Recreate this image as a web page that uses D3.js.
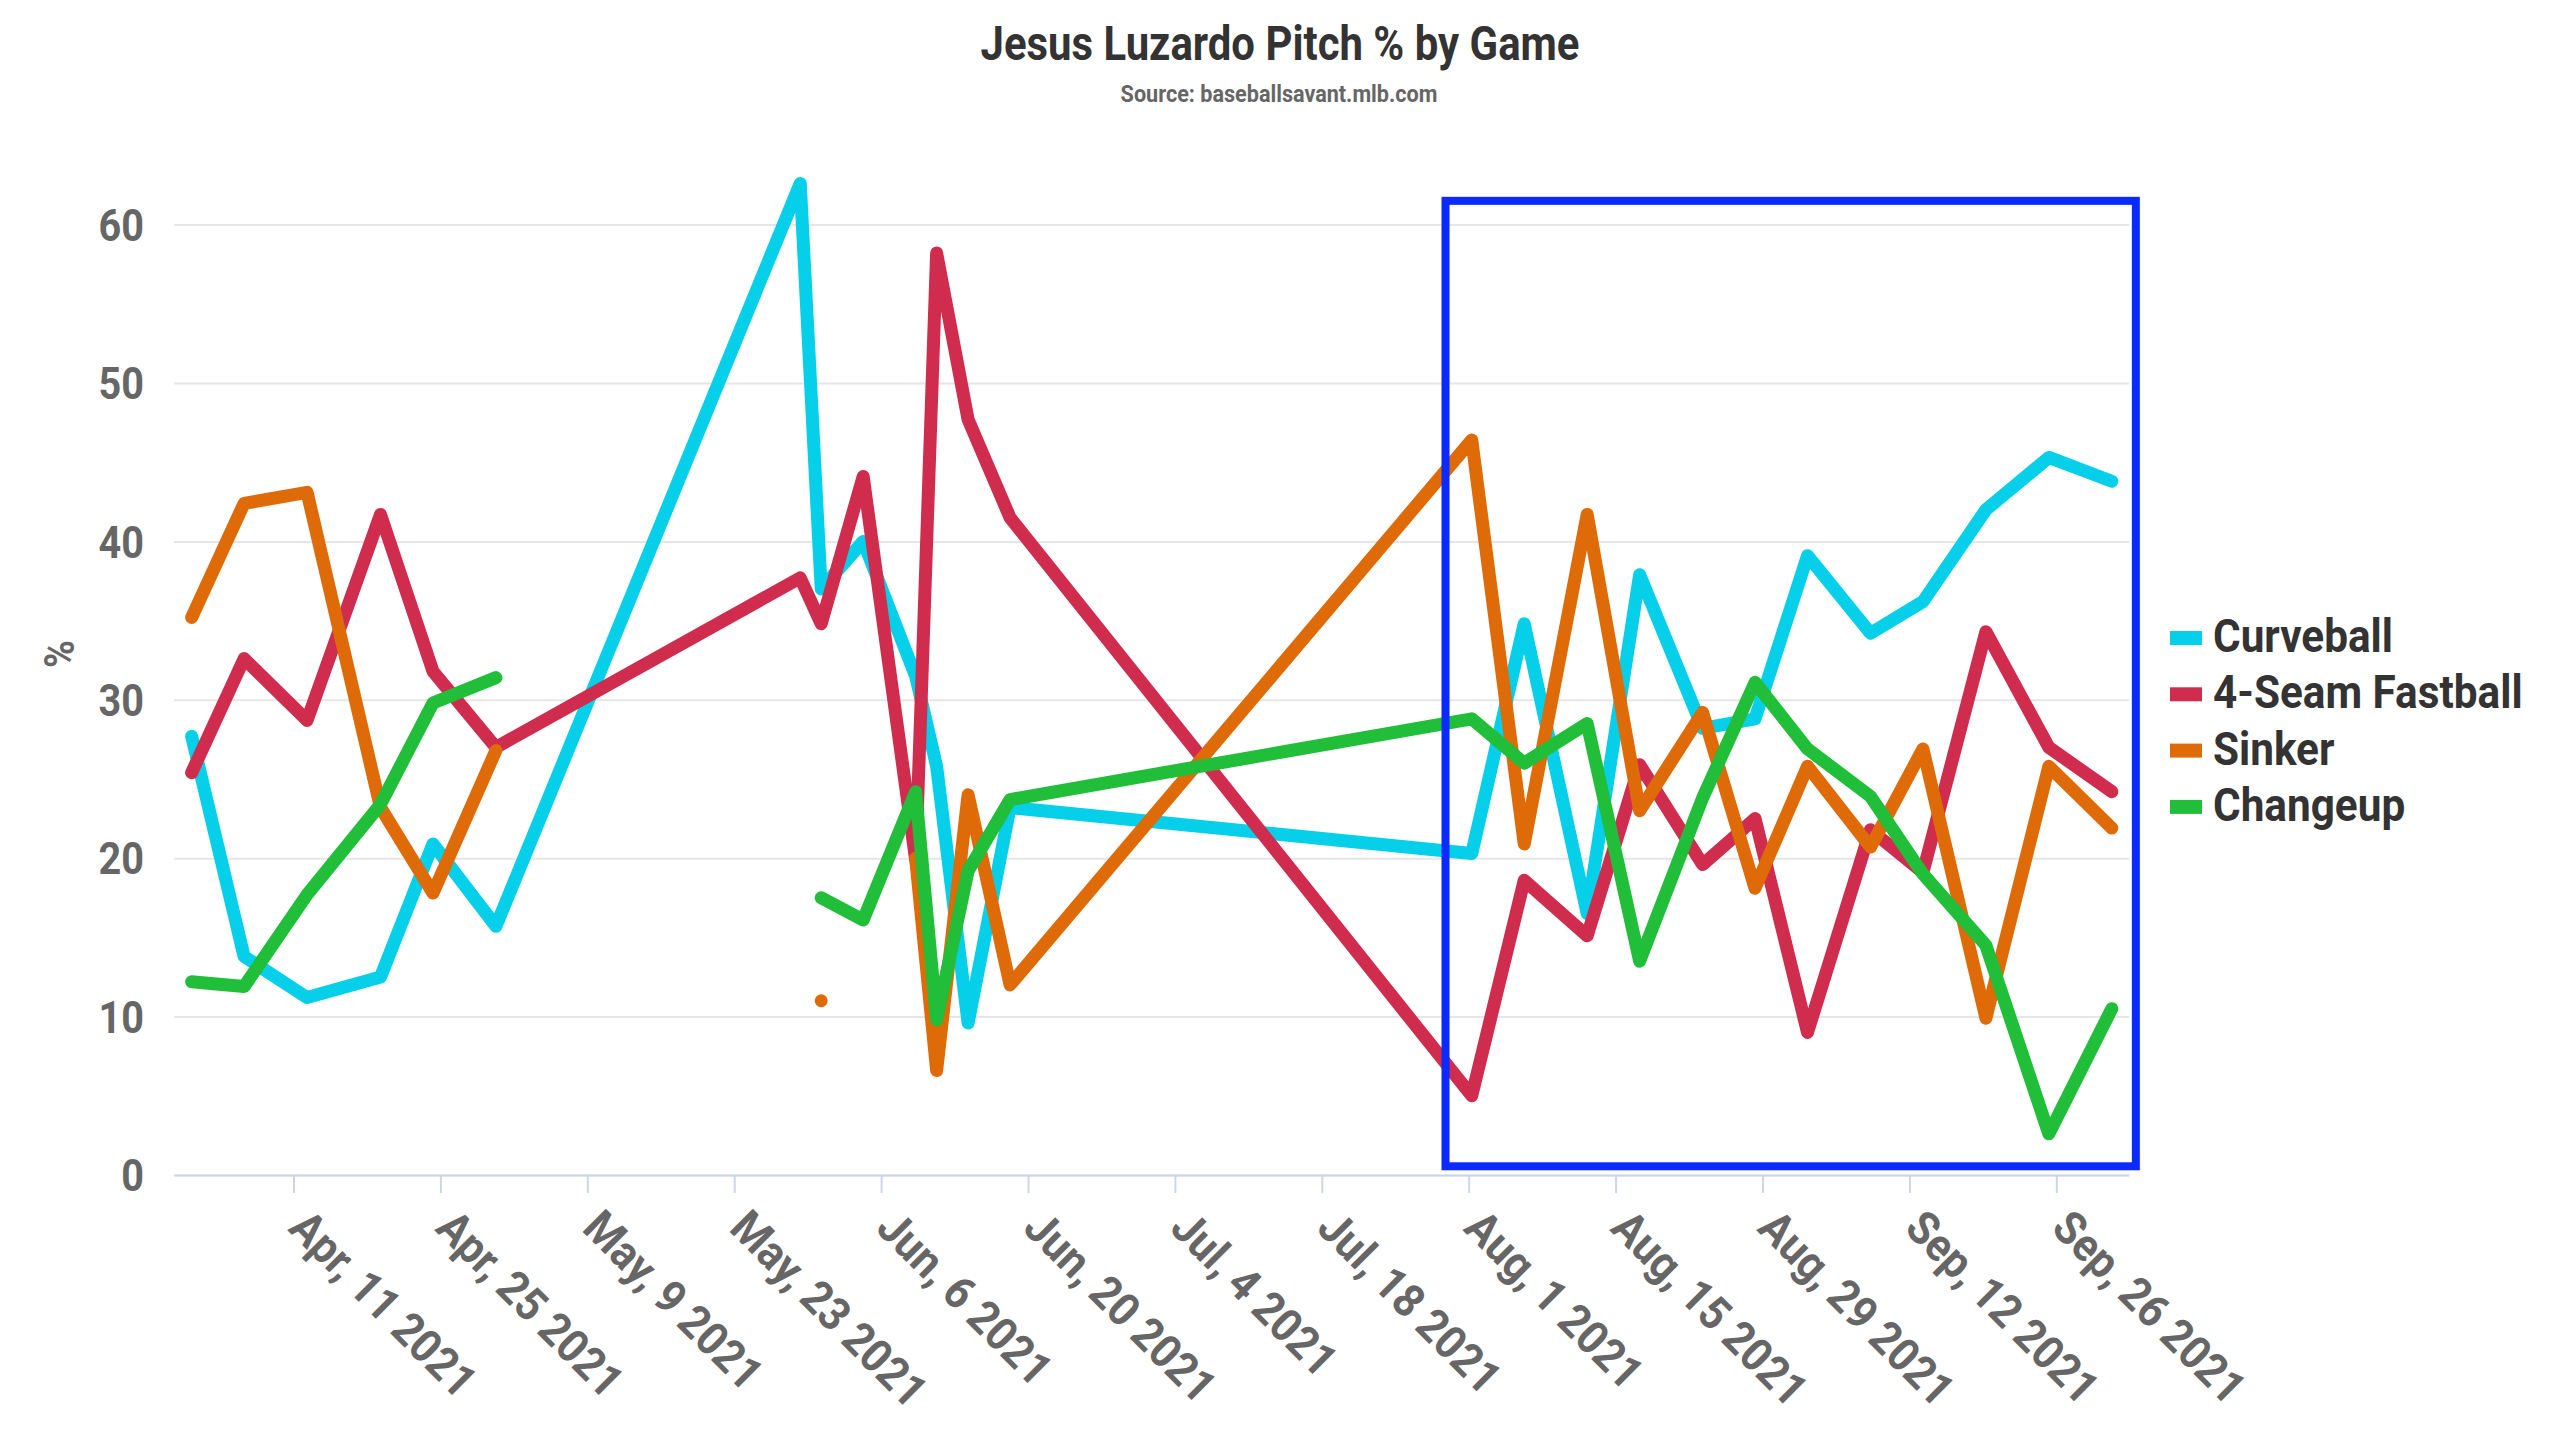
<!DOCTYPE html>
<html><head><meta charset="utf-8">
<script src="https://cdn.jsdelivr.net/npm/d3@7"></script>
<style>
html,body{margin:0;padding:0;background:#ffffff;}
svg text{font-family:Roboto,"Noto Sans",sans-serif;font-weight:700;}
</style></head><body>
<svg id="chart" width="2560" height="1440"></svg>
<script>
// ---- data ----
const gameDates = ["2021-04-01","2021-04-06","2021-04-12","2021-04-19","2021-04-24","2021-04-30",
  "2021-05-29","2021-05-31","2021-06-04","2021-06-09","2021-06-11","2021-06-14","2021-06-18",
  "2021-08-01","2021-08-06","2021-08-12","2021-08-17","2021-08-23","2021-08-28","2021-09-02",
  "2021-09-08","2021-09-13","2021-09-19","2021-09-25","2021-10-01"];
const curveball = [27.7,13.8,11.2,12.5,20.9,15.7,62.6,37.0,40.0,31.5,25.8,9.6,23.2,20.3,34.8,16.5,37.9,28.2,28.8,39.1,34.2,36.2,42.0,45.3,43.8];
const fourSeam  = [25.4,32.6,28.7,41.7,31.8,27.0,37.7,34.8,44.1,19.9,58.2,47.7,41.5,5.0,18.6,15.1,25.9,19.6,22.5,9.0,21.8,19.1,34.3,27.0,24.2];
const sinker    = [35.2,42.4,43.1,23.2,17.8,26.8,null,11.0,null,20.0,6.6,24.0,12.0,46.4,20.9,41.7,23.0,29.2,18.1,25.8,20.7,26.9,9.9,25.8,21.9];
const changeup  = [12.2,11.9,17.7,23.4,29.8,31.4,null,17.5,16.1,24.2,9.8,19.2,23.7,28.8,26.0,28.5,13.5,23.8,31.1,26.9,23.9,19.0,14.5,2.6,10.5];
const seriesNames  = ["Curveball","4-Seam Fastball","Sinker","Changeup"];
const seriesValues = [curveball, fourSeam, sinker, changeup];
const seriesColors = ["#05cfe9","#d02d4e","#de6b08","#21be3a"];
const xTickDates = ["2021-04-11","2021-04-25","2021-05-09","2021-05-23","2021-06-06","2021-06-20",
  "2021-07-04","2021-07-18","2021-08-01","2021-08-15","2021-08-29","2021-09-12","2021-09-26"];
const yTicks = [0,10,20,30,40,50,60];
const xDomain = ["2021-03-30T14:40","2021-10-02T22:20"];
const highlightBox = {start:"2021-07-29T19:00", end:"2021-10-03T14:00", top:61.5, bottom:0.55};
const titleText = "Jesus Luzardo Pitch % by Game";
const subtitleText = "Source: baseballsavant.mlb.com";
const yAxisTitle = "%";

// ---- layout ----
const K = 0.9; // horizontal condensing (approximates a condensed face)
const plot = {left:174, right:2129, top:224.6, bottom:1175};
const parseDay = d3.timeParse("%Y-%m-%d");
const parseTime = d3.timeParse("%Y-%m-%dT%H:%M");
const gameTime = s => d3.timeHour.offset(parseDay(s), 7);

const svg = d3.select("#chart");
svg.append("rect").attr("width",2560).attr("height",1440).attr("fill","#ffffff");

const x = d3.scaleTime().domain(xDomain.map(parseTime)).range([plot.left, plot.right]);
const y = d3.scaleLinear().domain([0,60]).range([plot.bottom, plot.top]);

// gridlines
const grid = svg.append("g").attr("transform",`translate(${plot.left},0)`)
  .call(d3.axisLeft(y).tickValues(yTicks).tickSize(-(plot.right-plot.left)).tickFormat(""));
grid.select(".domain").remove();
grid.selectAll("line").attr("stroke","#e6e6e6").attr("stroke-width",2);

// x axis
const xAxis = svg.append("g").attr("transform",`translate(0,${plot.bottom})`)
  .call(d3.axisBottom(x).tickValues(xTickDates.map(parseDay)).tickSize(18).tickSizeOuter(0)
    .tickFormat(d3.timeFormat("%b, %-d %Y")));
xAxis.select(".domain").attr("stroke","#ccd6eb").attr("stroke-width",2);
xAxis.selectAll(".tick line").attr("stroke","#ccd6eb").attr("stroke-width",2);
xAxis.selectAll(".tick text")
  .attr("y",null).attr("dy",null)
  .attr("text-anchor","start")
  .attr("transform",`translate(-7,55) rotate(45) scale(0.92,1)`)
  .attr("fill","#666666").style("font-size","46px");

// y axis labels
const yAxis = svg.append("g").attr("transform",`translate(144,0)`)
  .call(d3.axisLeft(y).tickValues(yTicks).tickSize(0).tickPadding(0));
yAxis.select(".domain").remove();
yAxis.selectAll(".tick text").attr("x",0).attr("dy","0.355em")
  .attr("transform",`scale(${K},1)`)
  .attr("fill","#666666").style("font-size","44px");

svg.append("text").attr("transform",`translate(74,654) rotate(-90) scale(${K},1)`)
  .attr("text-anchor","middle").attr("fill","#666666").style("font-size","42px").text(yAxisTitle);

// series
const line = d3.line().defined(d => d.v != null).x(d => x(d.t)).y(d => y(d.v));
const seriesData = seriesValues.map((vals,i) => ({
  name: seriesNames[i], color: seriesColors[i],
  points: vals.map((v,j) => ({t: gameTime(gameDates[j]), v}))
}));
const sg = svg.append("g");
seriesData.forEach(s => {
  sg.append("path").datum(s.points).attr("d", line)
    .attr("fill","none").attr("stroke", s.color).attr("stroke-width",13)
    .attr("stroke-linejoin","round").attr("stroke-linecap","round");
  const iso = s.points.filter((p,j) => p.v != null &&
    (j===0 || s.points[j-1].v == null) && (j===s.points.length-1 || s.points[j+1].v == null));
  sg.selectAll(null).data(iso).enter().append("rect")
    .attr("x", d => x(d.t)-3.5).attr("y", d => y(d.v)-3.5)
    .attr("width",7).attr("height",7).attr("fill", s.color);
});

// highlight box
svg.append("rect")
  .attr("x", x(parseTime(highlightBox.start)))
  .attr("y", y(highlightBox.top))
  .attr("width", x(parseTime(highlightBox.end)) - x(parseTime(highlightBox.start)))
  .attr("height", y(highlightBox.bottom) - y(highlightBox.top))
  .attr("fill","none").attr("stroke","#0a2aff").attr("stroke-width",8);

// title
svg.append("text").attr("transform",`translate(1280,60) scale(0.855,1)`)
  .attr("text-anchor","middle").attr("fill","#333333").style("font-size","49px").text(titleText);
svg.append("text").attr("transform",`translate(1279,102) scale(${K},1)`)
  .attr("text-anchor","middle").attr("fill","#666666").style("font-size","24px").text(subtitleText);

// legend
const lg = svg.append("g").attr("transform","translate(2170,638)");
const rows = lg.selectAll("g").data(seriesData).enter().append("g")
  .attr("transform",(d,i) => `translate(0,${i*56.3})`);
rows.append("rect").attr("x",0).attr("y",-7).attr("width",32).attr("height",14)
  .attr("fill", d => d.color);
rows.append("text").attr("transform",`translate(43,14) scale(${K},1)`)
  .attr("fill","#333333").style("font-size","47px").text(d => d.name);
</script>
</body></html>
